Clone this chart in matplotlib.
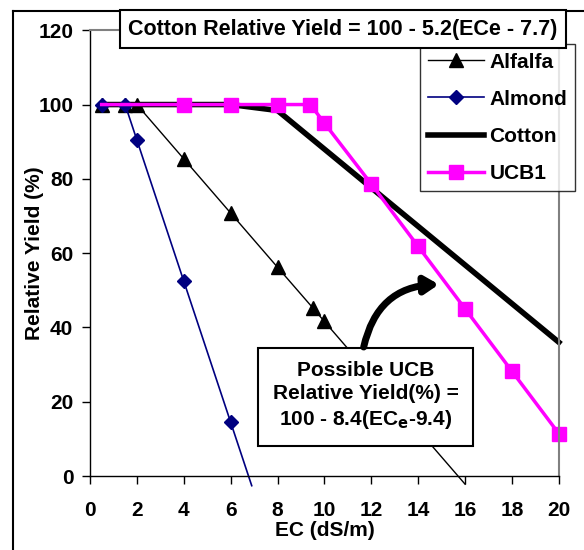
import matplotlib
matplotlib.use("Agg")
import matplotlib.pyplot as plt
from matplotlib.lines import Line2D

plt.rcParams['font.family'] = ['Liberation Sans', 'DejaVu Sans']
plt.rcParams['font.weight'] = 'bold'

# salt tolerance curves, relative yield (%) vs EC (dS/m)
alfalfa_x = [0.5, 1.5, 2, 4, 6, 8, 9.5, 10, 16]
alfalfa_y = [100, 100, 100, 85.4, 70.8, 56.2, 45.3, 41.6, -2.2]
almond_x = [0.5, 1.5, 2, 4, 6, 6.9]
almond_y = [100, 100, 90.5, 52.5, 14.5, -2.6]
cotton_x = [0.5, 2, 4, 6, 8, 10, 12, 14, 16, 18, 20]
cotton_y = [100, 100, 100, 100, 98.4, 88, 77.6, 67.2, 56.8, 46.4, 36]
ucb_x = [0.5, 4, 6, 8, 9.4, 10, 12, 14, 16, 18, 20]
ucb_y = [100, 100, 100, 100, 100, 95, 78.6, 61.8, 45, 28.2, 11.4]

x_ticks = [0, 2, 4, 6, 8, 10, 12, 14, 16, 18, 20]
y_ticks = [0, 20, 40, 60, 80, 100, 120]

fig = plt.figure(figsize=(5.84, 5.5), dpi=100)
ax = fig.add_axes([0.154, 0.1345, 0.803, 0.8105])

ax.plot(alfalfa_x, alfalfa_y, color='black', lw=1, marker='^', ms=10,
        markevery=list(range(8)), label='Alfalfa', clip_on=False)
ax.plot(almond_x, almond_y, color='#000080', lw=1.2, marker='D', ms=7,
        mfc='#000080', markevery=list(range(5)), label='Almond', clip_on=False)
ax.plot(cotton_x, cotton_y, color='black', lw=4, label='Cotton', clip_on=False, zorder=1)
ax.plot(ucb_x, ucb_y, color='#ff00ff', lw=2.5, marker='s', ms=10,
        markevery=list(range(1, 11)), label='UCB1', clip_on=False, zorder=2)

ax.set_xlim(0, 20)
ax.set_ylim(0, 120)
ax.set_xticks(x_ticks)
ax.set_yticks(y_ticks)
ax.tick_params(direction='out', length=6, width=1, labelsize=15, pad=6)
ax.tick_params(axis='x', pad=12)
for s in ['top', 'right']:
    ax.spines[s].set_color('#808080')
    ax.spines[s].set_linewidth(1.5)
ax.spines['left'].set_linewidth(1)
ax.spines['bottom'].set_linewidth(1)

ax.set_xlabel('EC (dS/m)', fontsize=15, fontweight='bold')
ax.xaxis.set_label_coords(0.5, -0.1)
ax.set_ylabel('Relative Yield (%)', fontsize=15, fontweight='bold')
ax.yaxis.set_label_coords(-0.097, 0.5)

leg = ax.legend(loc='upper left', bbox_to_anchor=(0.703, 0.9686), fontsize=15,
                frameon=True, fancybox=False, edgecolor='black', handlelength=2.7,
                handletextpad=0.25, borderpad=0.4, labelspacing=0.87, borderaxespad=0)
leg.get_frame().set_linewidth(1)

fig.text(0.587, 0.947, 'Cotton Relative Yield = 100 - 5.2(ECe - 7.7)', ha='center', va='center',
         fontsize=15.5, fontweight='bold',
         bbox=dict(boxstyle='square,pad=0.4', fc='white', ec='black', lw=1.5), zorder=10)

ax.text(11.77, 21.5, 'Possible UCB\nRelative Yield(%) =\n100 - 8.4(EC$_\\mathbf{e}$-9.4)',
        ha='center', va='center', fontsize=15, fontweight='bold', linespacing=1.3,
        bbox=dict(boxstyle='square,pad=0.7', fc='white', ec='black', lw=1.5), zorder=5)
ax.annotate('', xy=(15.0, 51.6), xytext=(11.65, 34),
            arrowprops=dict(arrowstyle='-|>,head_length=0.8,head_width=0.5', color='black',
                            lw=5, connectionstyle='arc3,rad=-0.4'), zorder=6)

# outer border
fig.add_artist(Line2D([0.022, 0.022], [0, 0.98], transform=fig.transFigure, color='black', lw=1.5))
fig.add_artist(Line2D([0.022, 1], [0.98, 0.98], transform=fig.transFigure, color='black', lw=1.5))

fig.savefig('out.png', dpi=100)
